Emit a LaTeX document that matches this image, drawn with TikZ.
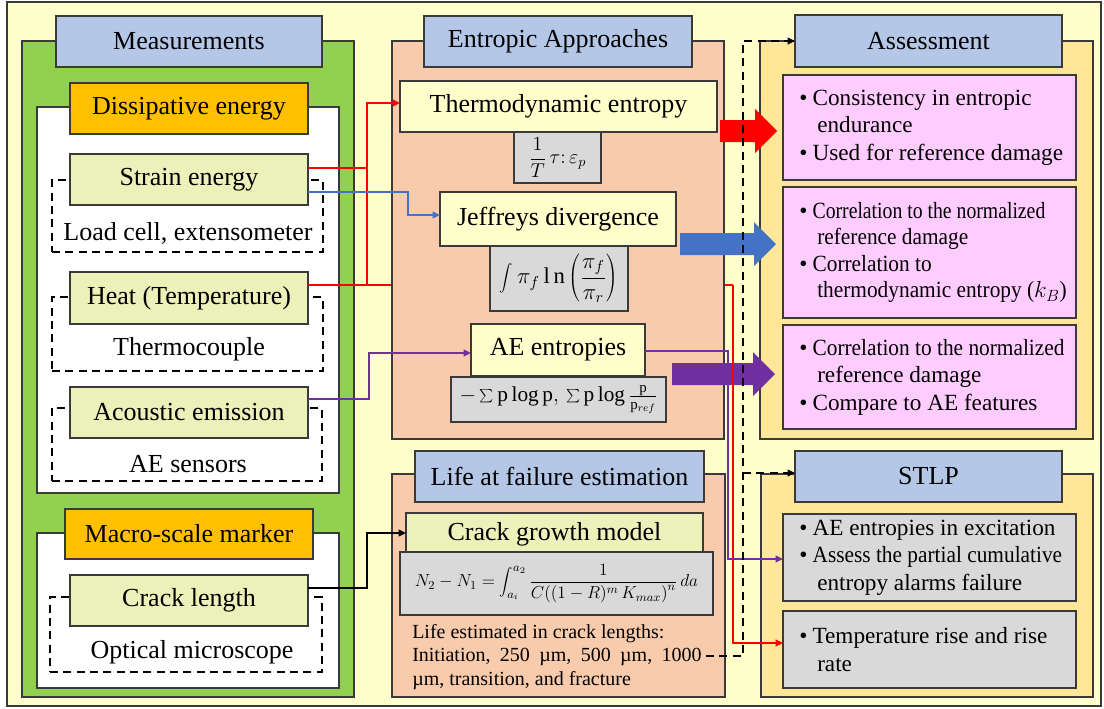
\RequirePackage{fix-cm}
\documentclass[tikz,border=0pt]{standalone}
\usepackage{fontspec}
\setmainfont{Liberation Serif}
\newfontfamily\condA[FakeStretch=0.85]{Liberation Serif}
\newfontfamily\condB[FakeStretch=0.92]{Liberation Serif}
\usetikzlibrary{arrows.meta,calc}
\pgfdeclarelayer{behind}
\pgfsetlayers{behind,main}
\definecolor{bgY}{HTML}{FFFFCC}
\definecolor{grnP}{HTML}{92D050}
\definecolor{hdrB}{HTML}{B4C7E7}
\definecolor{orgH}{HTML}{FFC000}
\definecolor{lgrn}{HTML}{EBF1B8}
\definecolor{salm}{HTML}{F8CBAD}
\definecolor{palY}{HTML}{FFFFCC}
\definecolor{grayB}{HTML}{D9D9D9}
\definecolor{amber}{HTML}{FFE699}
\definecolor{pinkB}{HTML}{FFCCFF}
\definecolor{bord}{HTML}{3A3A3A}
\definecolor{blueC}{HTML}{4472C4}
\definecolor{purpC}{HTML}{7030A0}
\definecolor{redC}{HTML}{FF0000}
\newcommand\fbig{\fontsize{19.5}{23}\selectfont}
\newcommand\fmid{\fontsize{17.4}{20.6}\selectfont}
\newcommand\fsml{\fontsize{15}{17.6}\selectfont}
\newcommand\bul[1]{\makebox[10pt][l]{\textbullet}#1}
\newcommand\cnt[1]{\hspace*{13.5pt}#1}
\newcommand\mkbox[7]{\node[#2, minimum width={(#5-#3)*0.75pt}, minimum height={(#6-#4)*0.75pt}] (#1) at ({(#3+#5)/2},{(#4+#6)/2}) {#7};}
\newcommand\blockarr[4]{\fill[#1] (#2,{#4-11}) -- ({#3-22},{#4-11}) -- ({#3-22},{#4-22}) -- (#3,#4) -- ({#3-22},{#4+22}) -- ({#3-22},{#4+11}) -- (#2,{#4+11}) -- cycle;}
\tikzset{
  base/.style={draw=bord, line width=0.9pt, inner sep=1pt, outer sep=0pt, font=\fbig, text=black},
  hdr/.style={base, fill=hdrB},
  orng/.style={base, fill=orgH},
  gbox/.style={base, fill=lgrn},
  ybox/.style={base, fill=palY},
  fbox/.style={base, fill=grayB},
  dbox/.style={draw=black, line width=1.8pt, dash pattern=on 6pt off 4pt, inner sep=0pt, outer sep=0pt},
  pinkbox/.style={base, fill=pinkB},
  graybox/.style={base, fill=grayB},
  btxt/.style={font=\fmid, align=left, inner sep=0pt, anchor=west, text=black},
  lbl/.style={font=\fbig, inner sep=0pt},
  tip/.style={-{Triangle[length=5.5pt,width=5pt]}},
  redl/.style={draw=redC, line width=1.4pt},
  bluel/.style={draw=blueC, line width=1.4pt},
  purpl/.style={draw=purpC, line width=1.4pt},
  blkl/.style={draw=black, line width=1.8pt},
  dashl/.style={draw=black, line width=1.8pt, dash pattern=on 6pt off 4pt}
}
\begin{document}
\begin{tikzpicture}[x=0.75pt,y=-0.75pt]
\useasboundingbox (0,0) rectangle (1104,708);
\begin{pgfonlayer}{behind}
\draw[draw=bord, line width=1.1pt, fill=bgY] (7,2) rectangle (1101,706);
\end{pgfonlayer}
% ---------- Measurements
\mkbox{mpanel}{base,fill=grnP}{22}{41}{354}{697}{}
\mkbox{white1}{base,fill=white}{37}{107}{339}{493}{}
\mkbox{white2}{base,fill=white}{37}{533}{339}{688}{}
\mkbox{mhdr}{hdr}{56}{16}{322}{67}{Measurements}
\mkbox{dhdr}{orng}{70}{83}{308}{134}{Dissipative energy}
\mkbox{mshdr}{orng}{65}{509}{313}{559}{Macro-scale marker}
\mkbox{dsA}{dbox}{52}{180}{323}{252}{}
\mkbox{dsB}{dbox}{52}{297}{323}{371}{}
\mkbox{dsC}{dbox}{52}{408}{322}{481}{}
\mkbox{dsD}{dbox}{50}{597}{322}{672}{}
\mkbox{strain}{gbox}{70}{154}{308}{205}{Strain energy}
\mkbox{heat}{gbox}{70}{272}{308}{324}{Heat (Temperature)}
\mkbox{acou}{gbox}{70}{387}{308}{438}{Acoustic emission}
\mkbox{crack}{gbox}{70}{575}{308}{626}{Crack length}
\node[lbl, anchor=base] (loadcell) at (188,240) {Load cell, extensometer};
\node[lbl, anchor=base] (thermoc) at (189,355) {Thermocouple};
\node[lbl, anchor=base] (aesens) at (188,472) {AE sensors};
\node[lbl, anchor=base] (optm) at (192,658) {Optical microscope};
% ---------- Entropic approaches
\mkbox{epanel}{base,fill=salm}{392}{41}{724}{439}{}
\mkbox{ehdr}{hdr}{424}{16}{692}{67}{Entropic Approaches}
\mkbox{thermo}{ybox}{400}{81}{717}{132}{Thermodynamic entropy}
\mkbox{thf}{fbox}{514}{132}{601}{183}{\fontsize{15}{18}\selectfont$\displaystyle\frac{1}{T}\,\tau\colon\varepsilon_p$}
\mkbox{jeff}{ybox}{440}{192}{676}{246}{Jeffreys divergence}
\mkbox{jf}{fbox}{490}{246}{628}{311}{\fontsize{17}{20}\selectfont$\displaystyle\int\pi_f\,\mathrm{l\,n}\left(\frac{\pi_f}{\pi_r}\right)$}
\mkbox{aeent}{ybox}{471}{324}{645}{376}{AE entropies}
\mkbox{aef}{fbox}{451}{377}{666}{422}{\fontsize{16}{19}\selectfont$-\sum\mathrm{p}\log\mathrm{p},\,\sum\mathrm{p}\log\frac{\mathrm{p}}{\mathrm{p}_{ref}}$}
% ---------- Life at failure
\mkbox{lpanel}{base,fill=salm}{392}{474}{725}{697}{}
\mkbox{lhdr}{hdr}{415}{451}{704}{502}{Life at failure estimation}
\mkbox{cgm}{gbox}{406}{513}{703}{555}{\raisebox{2pt}{Crack growth model}}
\mkbox{cgf}{fbox}{400}{552}{713}{615}{\fontsize{13}{15}\selectfont$\displaystyle N_2-N_1=\int_{a_i}^{a_2}\frac{1}{C\big((1-R)^m\,K_{max}\big)^n}\,da$}
\node[font=\fsml, align=left, inner sep=0pt, anchor=north west] (lifetxt) at (412,624)
  {Life estimated in crack lengths:\\ \makebox[217pt][s]{Initiation,\hfil{} 250\hfil{} µm,\hfil{} 500\hfil{} µm,\hfil{} 1000}\\ µm, transition, and fracture};
% ---------- Assessment
\mkbox{apanel}{base,fill=amber}{760}{41}{1093}{439}{}
\mkbox{ahdr}{hdr}{795}{15}{1062}{67}{Assessment}
\mkbox{pk1}{pinkbox}{783}{75}{1076}{180}{}
\mkbox{pk2}{pinkbox}{783}{187}{1076}{318}{}
\mkbox{pk3}{pinkbox}{783}{325}{1076}{429}{}
\node[btxt] (pk1t) at ($(pk1.west)+(16,0)$) {\bul{Consistency in entropic}\\ \cnt{endurance}\\ \bul{Used for reference damage}};
\node[btxt, font=\fontsize{17.4}{19.8}\selectfont] (pk2t) at ($(pk2.west)+(16,0)$) {\bul{\condA Correlation to the normalized}\\ \cnt{\condB reference damage}\\ \bul{\condB Correlation to}\\ \cnt{\condB thermodynamic entropy ($k_B$)}};
\node[btxt] (pk3t) at ($(pk3.west)+(16,0)$) {\bul{\condB Correlation to the normalized}\\ \cnt{reference damage}\\ \bul{Compare to AE features}};
% ---------- STLP
\mkbox{spanel}{base,fill=amber}{761}{474}{1093}{697}{}
\mkbox{shdr}{hdr}{795}{451}{1062}{502}{STLP}
\mkbox{gy1}{graybox}{783}{514}{1076}{601}{}
\mkbox{gy2}{graybox}{783}{611}{1076}{688}{}
\node[btxt] (gy1t) at ($(gy1.west)+(16,0)$) {\bul{AE entropies in excitation}\\ \bul{\condB Assess the partial cumulative}\\ \cnt{entropy alarms failure}};
\node[btxt] (gy2t) at ($(gy2.west)+(16,0)$) {\bul{Temperature rise and rise}\\ \cnt{rate}};
% ---------- block arrows
\blockarr{redC}{720}{777}{131}
\blockarr{blueC}{680}{776}{244}
\blockarr{purpC}{672}{775}{374}
% ---------- connectors
\coordinate (rA) at (367,168);
\coordinate (rT) at (367,103);
\coordinate (rH) at (367,285);
\coordinate (rR1) at (733,285);
\coordinate (rR2) at (733,643);
\coordinate (bA) at (408,192);
\coordinate (bB) at (408,215);
\coordinate (pA) at (369,399);
\coordinate (pB) at (369,353);
\coordinate (pC) at (728,351);
\coordinate (pD) at (728,559);
\coordinate (kA) at (367,588);
\coordinate (kB) at (367,533);
\coordinate (dA) at (743,656);
\coordinate (dT) at (743,41);
\coordinate (dS) at (743,473);
\begin{pgfonlayer}{behind}
\draw[redl] (rH) -- (rR1);
\end{pgfonlayer}
\draw[redl] (strain.east |- rA) -- (rA);
\draw[redl, tip] (heat.east |- rH) -- (rH) |- (thermo.west |- rT);
\draw[redl, tip] (rR1) -- (rR2) -- (gy2.west |- rR2);
\draw[purpl, tip] (aeent.east |- pC) -- (pC) -- (pD) -- (gy1.west |- pD);
\draw[bluel, tip] (strain.east |- bA) -- (bA) |- (jeff.west |- bB);
\draw[purpl, tip] (acou.east |- pA) -- (pA) |- (aeent.west |- pB);
\draw[blkl, tip] (crack.east |- kA) -- (kA) |- (cgm.west |- kB);
\draw[dashl, tip] ([xshift=3pt]lifetxt.east |- dA) -- (dA) -- (dT) -- (ahdr.west |- dT);
\draw[dashl, tip] (dS) -- (shdr.west |- dS);
\end{tikzpicture}
\end{document}
